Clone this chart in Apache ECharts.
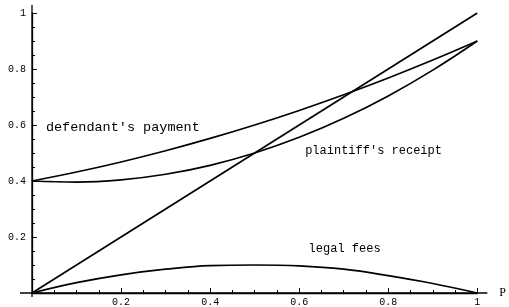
<!DOCTYPE html>
<html>
<head>
<meta charset="utf-8">
<script src="https://cdn.jsdelivr.net/npm/echarts@6/dist/echarts.min.js"></script>
<style>
html, body { margin: 0; padding: 0; background: #fff; }
#main { width: 509px; height: 307px; }
</style>
</head>
<body>
<div id="main"></div>
<script>
// values, x = 0, 0.1, ... 1
var xs = [0, 0.1, 0.2, 0.3, 0.4, 0.5, 0.6, 0.7, 0.8, 0.9, 1];
var defendantPay = [0.40, 0.432, 0.468, 0.508, 0.552, 0.60, 0.652, 0.708, 0.768, 0.832, 0.90];
var plaintiffGet = [0.40, 0.396, 0.404, 0.424, 0.456, 0.50, 0.556, 0.624, 0.704, 0.796, 0.90];
var legalFees = [0, 0.037, 0.065, 0.085, 0.098, 0.100, 0.097, 0.085, 0.062, 0.034, 0];
var diagX = [0, 1];
var diagY = [0, 1];

function pairs(a, b) {
	var out = [];
	for (var i = 0; i < a.length; i++) out.push([a[i], b[i]]);
	return out;
}

var mono = '"Liberation Mono", "DejaVu Sans Mono", monospace';
var lineSt = { color: '#000', width: 1.7 };

function note(txt, x, y, size) {
	return {
		symbol: 'circle', symbolSize: 0, silent: true,
		data: [{ coord: [x, y], value: txt }],
		label: { show: true, position: 'inside', formatter: txt, color: '#000', fontFamily: mono, fontSize: size }
	};
}

var myChart = echarts.init(document.getElementById('main'));
var option = {
	animation: false,
	backgroundColor: '#fff',
	grid: { left: 32, right: 27, top: 13, bottom: 14, containLabel: false },
	xAxis: {
		type: 'value', min: 0, max: 1, interval: 0.2,
		name: 'P', nameLocation: 'end', nameGap: 22,
		nameTextStyle: { fontFamily: '"Liberation Serif", serif', fontSize: 12, color: '#000', verticalAlign: 'middle' },
		axisLine: { lineStyle: { color: '#000', width: 1.3 } },
		axisTick: { inside: true, length: 5, lineStyle: { color: '#000' } },
		minorTick: { show: true, splitNumber: 4, length: 3, lineStyle: { color: '#000' } },
		splitLine: { show: false },
		axisLabel: {
			color: '#000', fontFamily: mono, fontSize: 10, margin: 4,
			formatter: function (v) { return v === 0 ? '' : String(+v.toFixed(1)); }
		}
	},
	yAxis: {
		type: 'value', min: 0, max: 1, interval: 0.2,
		axisLine: { lineStyle: { color: '#000', width: 1.3 } },
		axisTick: { inside: true, length: 5, lineStyle: { color: '#000' } },
		minorTick: { show: true, splitNumber: 4, length: 3, lineStyle: { color: '#000' } },
		splitLine: { show: false },
		axisLabel: {
			color: '#000', fontFamily: mono, fontSize: 10, margin: 6,
			formatter: function (v) { return v === 0 ? '' : String(+v.toFixed(1)); }
		}
	},
	series: [
		{ type: 'line', data: pairs(diagX, diagY), symbol: 'none', lineStyle: lineSt },
		{ type: 'line', data: pairs(xs, defendantPay), smooth: 0.4, symbol: 'none', lineStyle: lineSt,
		  markPoint: note("defendant's payment", 0.204, 0.593, 13.5) },
		{ type: 'line', data: pairs(xs, plaintiffGet), smooth: 0.4, symbol: 'none', lineStyle: lineSt,
		  markPoint: note("plaintiff's receipt", 0.767, 0.507, 12) },
		{ type: 'line', data: pairs(xs, legalFees), smooth: 0.4, symbol: 'none', lineStyle: lineSt,
		  markPoint: note('legal fees', 0.702, 0.157, 12) }
	]
};
myChart.setOption(option);

// axes in the original run a little past the plot box
var o = myChart.convertToPixel('grid', [0, 0]);
var e = myChart.convertToPixel('grid', [1, 1]);
var axSt = { stroke: '#000', lineWidth: 1.3 };
myChart.setOption({
	graphic: [
		{ type: 'line', shape: { x1: o[0] - 12, y1: o[1], x2: e[0] + 10, y2: o[1] }, style: axSt, silent: true },
		{ type: 'line', shape: { x1: o[0], y1: o[1] + 4, x2: o[0], y2: e[1] - 8 }, style: axSt, silent: true }
	]
});
</script>
</body>
</html>
